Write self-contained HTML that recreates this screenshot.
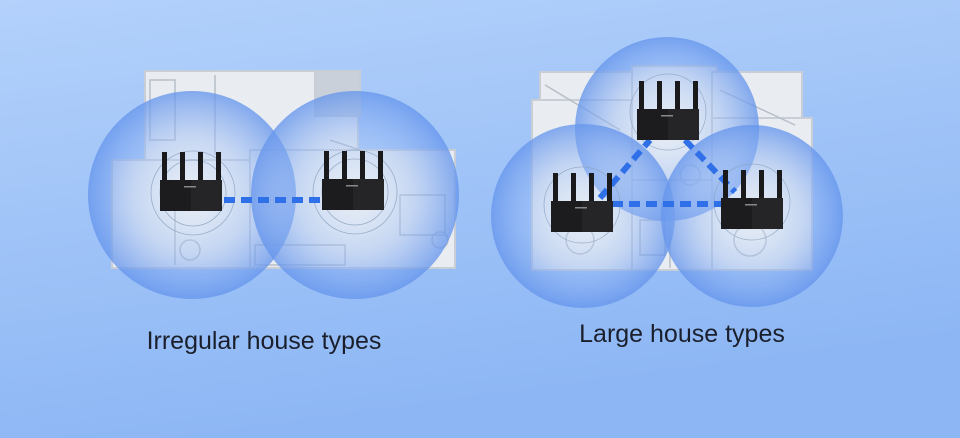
<!DOCTYPE html>
<html><head><meta charset="utf-8"><style>
html,body{margin:0;padding:0;width:960px;height:438px;overflow:hidden}
svg{display:block}
</style></head><body>
<svg width="960" height="438" viewBox="0 0 960 438" xmlns="http://www.w3.org/2000/svg">
<defs>
<linearGradient id="bg" x1="0" y1="0" x2="0.3" y2="1">
<stop offset="0" stop-color="#b3d1fb"/><stop offset="1" stop-color="#8cb6f4"/>
</linearGradient>
<radialGradient id="cg" cx="0.5" cy="0.5" r="0.5">
<stop offset="0" stop-color="#e6effc" stop-opacity="0.3"/>
<stop offset="0.55" stop-color="#9bbcf5" stop-opacity="0.45"/>
<stop offset="1" stop-color="#6595ec" stop-opacity="0.78"/>
</radialGradient>
<g id="rt">
<rect x="2" y="0" width="5" height="30" fill="#1a1a1c"/>
<rect x="20" y="0" width="5" height="30" fill="#1a1a1c"/>
<rect x="38" y="0" width="5" height="30" fill="#1a1a1c"/>
<rect x="56" y="0" width="5" height="30" fill="#1a1a1c"/>
<rect x="0" y="28" width="62" height="31" fill="#1c1c1e"/>
<rect x="31" y="28" width="31" height="31" fill="#252527"/>
<rect x="24" y="34" width="12" height="1.5" fill="#888"/>
</g>
</defs>
<rect width="960" height="438" fill="url(#bg)"/>
<g fill="#e9edf1" stroke="#c9ced6" stroke-width="2">
<rect x="145" y="71" width="213" height="90"/>
<rect x="112" y="160" width="150" height="108"/>
<rect x="250" y="150" width="205" height="118"/>
<rect x="315" y="71" width="45" height="45" fill="#c9d0da"/>
</g>
<g stroke="#b8bec8" stroke-width="1.5" fill="none">
<line x1="215" y1="75" x2="215" y2="155"/><line x1="175" y1="210" x2="175" y2="265"/>
<rect x="400" y="195" width="45" height="40"/><rect x="255" y="245" width="90" height="20"/>
<circle cx="440" cy="240" r="8"/><circle cx="190" cy="250" r="10"/>
<rect x="150" y="80" width="25" height="60"/><line x1="330" y1="140" x2="360" y2="150"/>
</g>
<g fill="#e9edf1" stroke="#c9ced6" stroke-width="2">
<rect x="540" y="72" width="95" height="70"/>
<rect x="532" y="100" width="100" height="170"/>
<rect x="632" y="66" width="85" height="204"/>
<rect x="712" y="72" width="90" height="60"/>
<rect x="712" y="118" width="100" height="152"/>
</g>
<g stroke="#b8bec8" stroke-width="1.5" fill="none">
<line x1="632" y1="180" x2="712" y2="180"/><line x1="670" y1="180" x2="670" y2="268"/>
<circle cx="690" cy="175" r="10"/><rect x="640" y="220" width="25" height="35"/>
<circle cx="750" cy="240" r="16"/><circle cx="580" cy="240" r="14"/>
<line x1="545" y1="85" x2="620" y2="130"/><line x1="720" y1="90" x2="795" y2="125"/>
</g>
<circle cx="192" cy="195" r="104" fill="url(#cg)"/>
<circle cx="355" cy="195" r="104" fill="url(#cg)"/>
<circle cx="667" cy="129" r="92" fill="url(#cg)"/>
<circle cx="583" cy="216" r="92" fill="url(#cg)"/>
<circle cx="752" cy="216" r="91" fill="url(#cg)"/>
<g fill="none" stroke="#8aa2c0" stroke-width="0.8" opacity="0.8">
<circle cx="193" cy="193" r="42"/><circle cx="193" cy="193" r="33"/>
<circle cx="355" cy="192" r="42"/><circle cx="355" cy="192" r="33"/>
<circle cx="668" cy="112" r="38"/><circle cx="582" cy="205" r="38"/><circle cx="752" cy="202" r="38"/>
</g>
<g stroke="#2f6fe8" stroke-width="6" stroke-dasharray="11 6" fill="none">
<line x1="224" y1="200" x2="320" y2="200"/>
<line x1="612" y1="204" x2="722" y2="204"/>
<line x1="600" y1="198" x2="650" y2="140"/>
<line x1="685" y1="140" x2="735" y2="192"/>
</g>
<use href="#rt" x="160" y="152"/>
<use href="#rt" x="322" y="151"/>
<use href="#rt" x="637" y="81"/>
<use href="#rt" x="551" y="173"/>
<use href="#rt" x="721" y="170"/>
<g font-family="Liberation Sans, sans-serif" font-size="25" fill="#1a1f2b" text-anchor="middle">
<text x="264" y="349">Irregular house types</text>
<text x="682" y="342">Large house types</text>
</g>
</svg>
</body></html>
